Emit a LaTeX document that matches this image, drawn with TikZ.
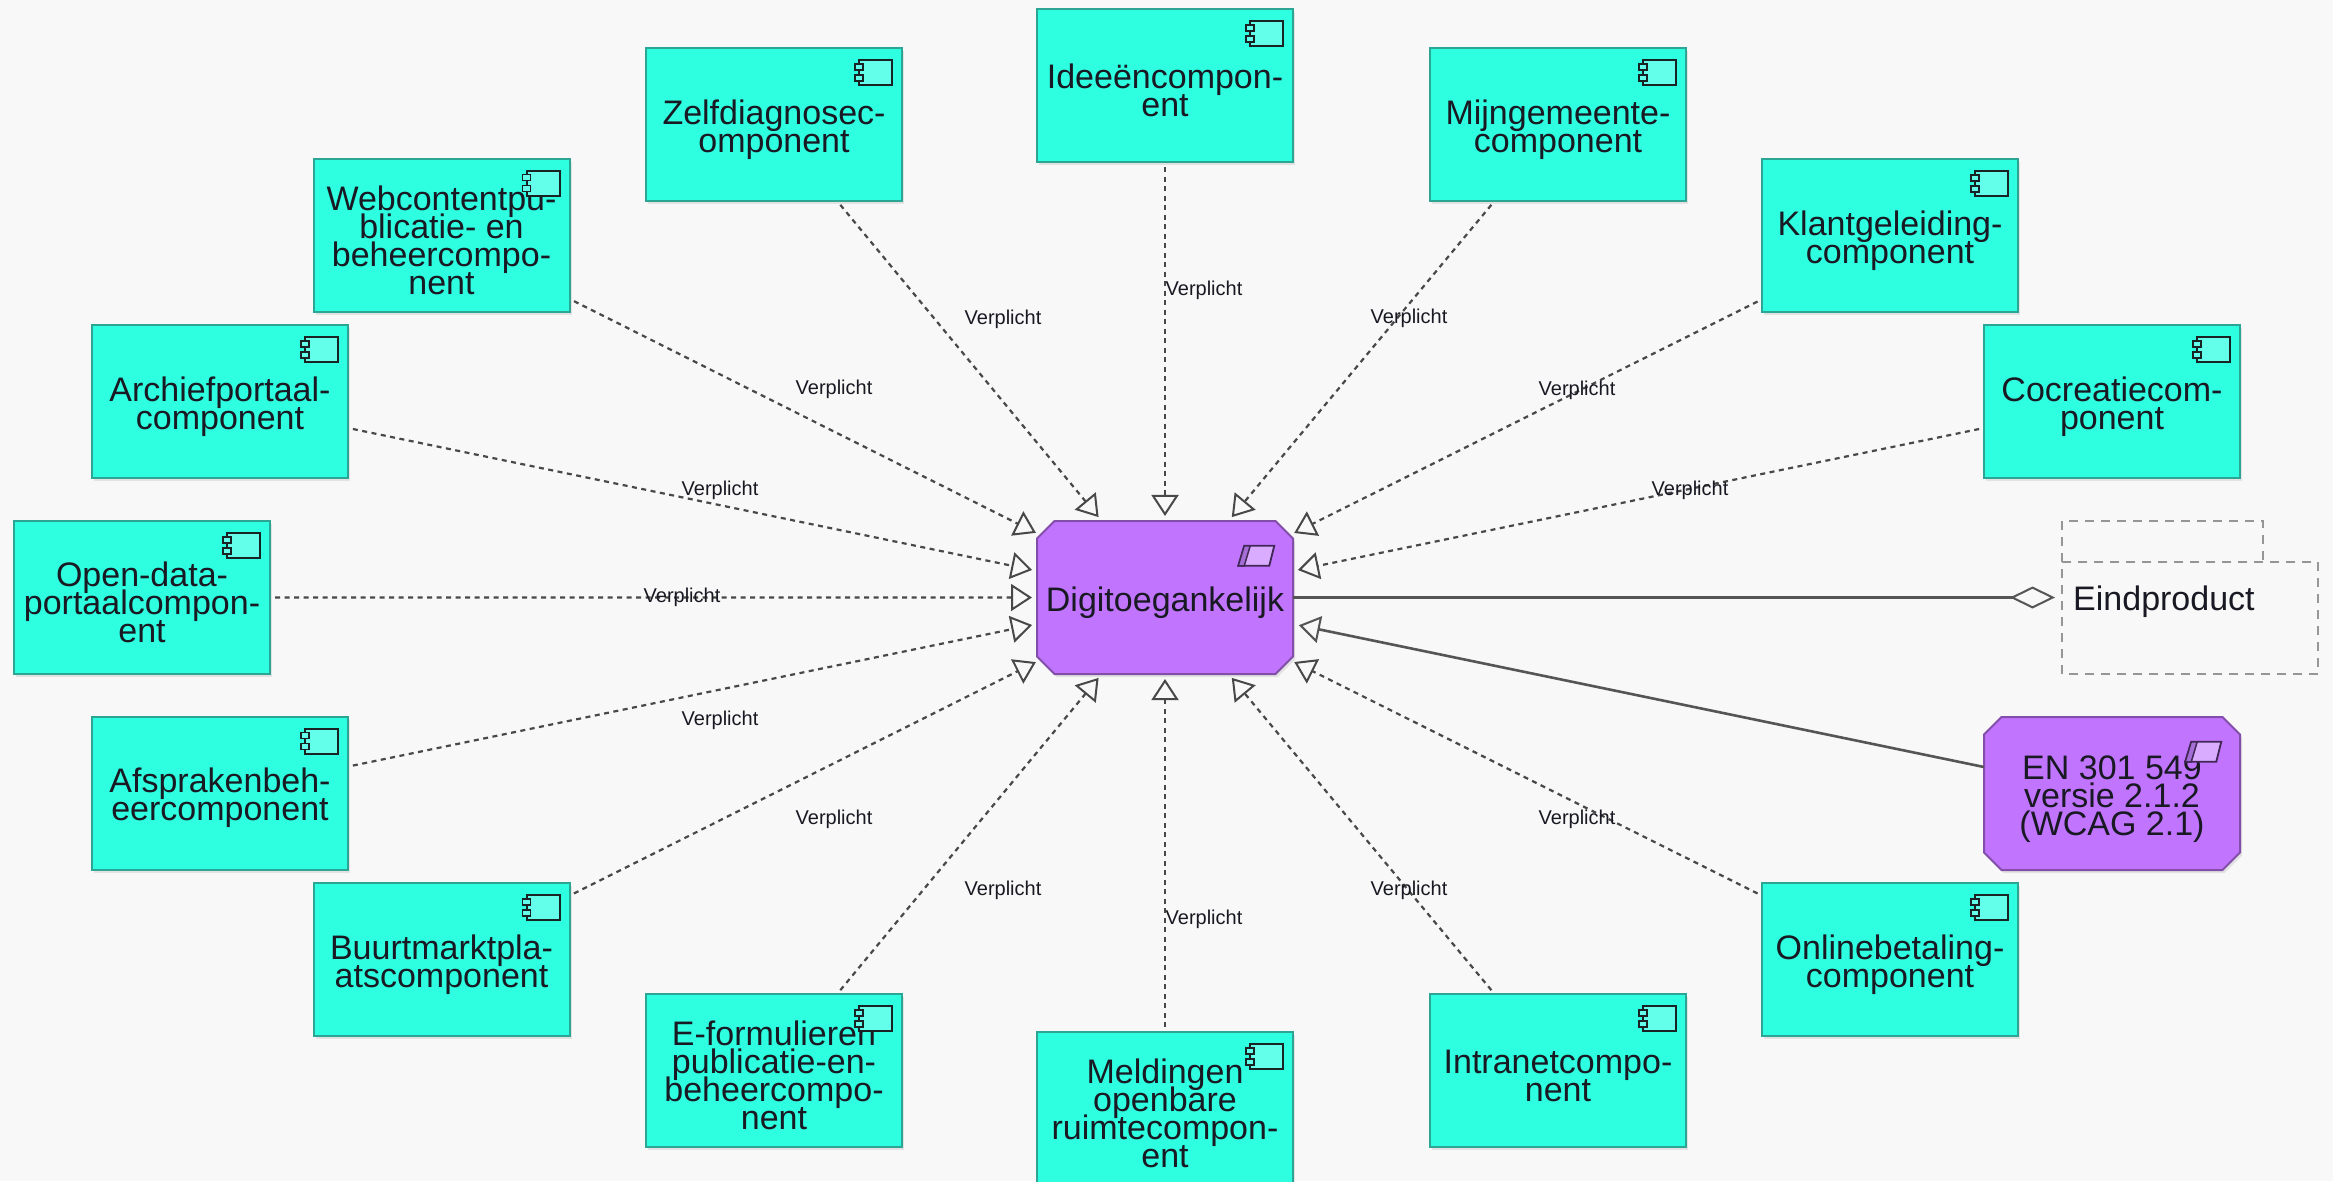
\documentclass[tikz,border=0pt]{standalone}
\usepackage{fontspec}
\setmainfont{Liberation Sans}
\usetikzlibrary{arrows.meta,shapes.misc,shadows,calc}
\definecolor{bgc}{RGB}{248,248,248}
\definecolor{compfill}{RGB}{46,255,224}
\definecolor{compdraw}{RGB}{44,165,148}
\definecolor{iconfill}{RGB}{100,255,235}
\definecolor{icondraw}{RGB}{25,35,35}
\definecolor{purpfill}{RGB}{193,117,255}
\definecolor{purpdraw}{RGB}{130,78,170}
\definecolor{purpicon}{RGB}{218,172,255}
\definecolor{purpstrip}{RGB}{165,110,215}
\definecolor{linec}{RGB}{72,72,72}
\definecolor{relc}{RGB}{85,85,85}
\definecolor{dashc}{RGB}{150,150,150}
\definecolor{txt}{RGB}{25,25,35}
\setlength{\lineskiplimit}{-100pt}
\setlength{\lineskip}{0pt}
\newcommand\mytopstrut{\rule{0pt}{34.5pt}}
\begin{document}
\begin{tikzpicture}[x=1pt,y=-1pt,
  bigtext/.style={font=\fontsize{34}{28}\selectfont, text=txt},
  comp/.style={bigtext, rectangle, draw=compdraw, fill=compfill, line width=2pt,
    minimum width=256pt, minimum height=153pt, inner sep=0pt, outer sep=0pt, align=center,
    drop shadow={shadow xshift=2pt,shadow yshift=-3pt,opacity=0.18}},
  goal/.style={bigtext, chamfered rectangle, chamfered rectangle angle=45,
    chamfered rectangle xsep=14pt, draw=purpdraw, fill=purpfill, line width=2pt,
    minimum width=256pt, minimum height=153pt, inner sep=0pt, outer sep=0pt, align=center,
    drop shadow={shadow xshift=2pt,shadow yshift=-3pt,opacity=0.18}},
  lbl/.style={font=\fontsize{20}{24}\selectfont, text=txt, inner sep=0pt},
  req/.style={draw=linec, line width=2.2pt, dash pattern=on 5pt off 4.5pt,
    -{Triangle[open,length=21pt,width=27pt,line width=2pt]},
    shorten >=5pt, shorten <=5pt},
  real/.style={draw=relc, line width=2.6pt,
    -{Triangle[open,length=21pt,width=27pt,line width=2pt]}, shorten >=6pt},
  agg/.style={draw=relc, line width=2.6pt,
    -{Diamond[open,length=45pt,width=22pt,line width=2pt]}, shorten >=7pt},
  dashline/.style={draw=dashc, line width=2pt, dash pattern=on 9pt off 7pt},
  compicon/.pic={
    \draw[line width=2pt, draw=icondraw, fill=iconfill] (-43,12) rectangle (-10,37);
    \draw[line width=1.6pt, draw=icondraw, fill=iconfill] (-47,16) rectangle (-39,22);
    \draw[line width=1.6pt, draw=icondraw, fill=iconfill] (-47,27) rectangle (-39,33);
  },
  goalicon/.pic={
    \draw[line width=1.8pt, draw=purpdraw!50!black, fill=purpicon]
      (-40,16) -- (-10,16) -- (-15,36) -- (-46,36) -- cycle;
    \draw[line width=1.5pt, draw=purpdraw!50!black, fill=purpstrip]
      (-40,16) -- (-34,16) -- (-40,36) -- (-46,36) -- cycle;
  }]
\useasboundingbox (0,0) rectangle (2333,1181);
\fill[bgc] (0,0) rectangle (2333,1181);
\clip (0,0) rectangle (2333,1181);

% components
\node[comp] (zelf)   at (774,124.5)   {\mytopstrut Zelfdiagnosec-\\omponent};
\node[comp] (idee)   at (1165,85.5)   {\mytopstrut Ideeëncompon-\\ent};
\node[comp] (mijn)   at (1558,124.5)  {\mytopstrut Mijngemeente-\\component};
\node[comp] (web)    at (441.5,235)   {\mytopstrut Webcontentpu-\\blicatie- en\\beheercompo-\\nent};
\node[comp] (klant)  at (1890,235.5)  {\mytopstrut Klantgeleiding-\\component};
\node[comp] (arch)   at (220,401.5)   {\mytopstrut Archiefportaal-\\component};
\node[comp] (coc)    at (2112,401.5)  {\mytopstrut Cocreatiecom-\\ponent};
\node[comp] (open)   at (142,597.5)   {\mytopstrut Open-data-\\portaalcompon-\\ent};
\node[comp] (afs)    at (220,793)     {\mytopstrut Afsprakenbeh-\\eercomponent};
\node[comp] (buurt)  at (441.5,959.5) {\mytopstrut Buurtmarktpla-\\atscomponent};
\node[comp] (eform)  at (774,1070.5)  {\mytopstrut E-formulieren\\publicatie-en-\\beheercompo-\\nent};
\node[comp] (meld)   at (1165,1108.5) {\mytopstrut Meldingen\\openbare\\ruimtecompon-\\ent};
\node[comp] (intra)  at (1558,1070.5) {\mytopstrut Intranetcompo-\\nent};
\node[comp] (online) at (1890,959.5)  {\mytopstrut Onlinebetaling-\\component};

\foreach \n in {zelf,idee,mijn,web,klant,arch,coc,open,afs,buurt,eform,meld,intra,online}
  \pic at (\n.north east) {compicon};

% goals
\node[goal] (digi) at (1165,597.5) {\mytopstrut\makebox[200pt]{Digitoegankelijk}};
\node[goal] (en)   at (2112,793.5) {\mytopstrut EN 301 549\\versie 2.1.2\\(WCAG 2.1)};
\pic at (digi.north east) {goalicon};
\pic at (en.north east) {goalicon};

% Eindproduct (dashed)
\node[minimum width=256pt, minimum height=153pt, inner sep=0pt, outer sep=0pt] (eind) at (2190,597.5) {};
\draw[dashline] (eind.south west) -- (eind.north west) -- ($(eind.north west)+(201,0)$) -- ($(eind.north west)+(201,41)$);
\draw[dashline] ($(eind.north west)+(0,41)$) -- ($(eind.north east)+(0,41)$) -- (eind.south east) -- (eind.south west);
\node[bigtext, anchor=base west, inner sep=0pt] (eindlbl) at (2073,610) {Eindproduct};

% connectors
\foreach \n in {zelf,idee,mijn,web,klant,arch,coc,open,afs,buurt,eform,meld,intra,online}
  \draw[req] (\n) -- (digi);
\draw[real] (en) -- (digi);
\draw[agg] (digi) -- (eind);

% labels
\node[lbl] (lzelf)   at (1003,319) {Verplicht};
\node[lbl] (lidee)   at (1204,290) {Verplicht};
\node[lbl] (lmijn)   at (1409,318) {Verplicht};
\node[lbl] (lweb)    at (834,389)  {Verplicht};
\node[lbl] (lklant)  at (1577,390) {Verplicht};
\node[lbl] (larch)   at (720,490)  {Verplicht};
\node[lbl] (lcoc)    at (1690,490) {Verplicht};
\node[lbl] (lopen)   at (682,597)  {Verplicht};
\node[lbl] (lafs)    at (720,720)  {Verplicht};
\node[lbl] (lbuurt)  at (834,819)  {Verplicht};
\node[lbl] (leform)  at (1003,890) {Verplicht};
\node[lbl] (lmeld)   at (1204,919) {Verplicht};
\node[lbl] (lintra)  at (1409,890) {Verplicht};
\node[lbl] (lonline) at (1577,819) {Verplicht};
\end{tikzpicture}
\end{document}
